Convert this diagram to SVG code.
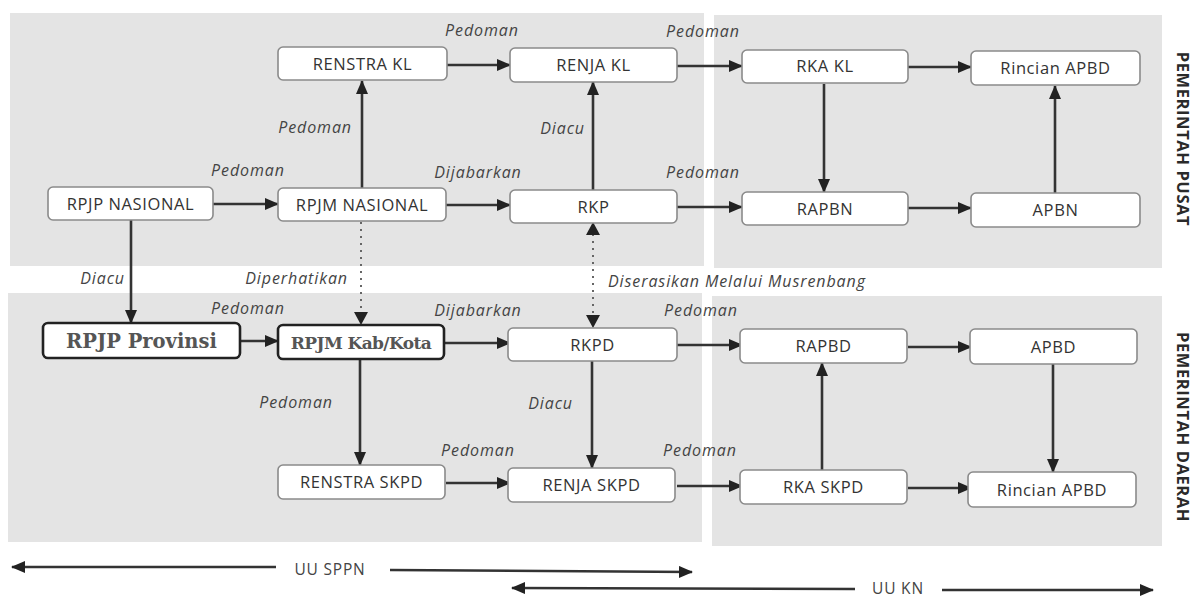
<svg xmlns="http://www.w3.org/2000/svg" width="1196" height="599" viewBox="0 0 1196 599">
<style>
.bg{fill:#e4e4e4}
.box{fill:#fff;stroke:#8a8a8a;stroke-width:1.6}
.bbox{fill:#fff;stroke:#222;stroke-width:2.6}
.t{font-family:"Open Sans","Noto Sans",sans-serif;font-size:16.5px;fill:#333;text-anchor:middle;letter-spacing:0.6px}
.st{font-family:"DejaVu Serif","Liberation Serif",serif;font-weight:bold;font-size:17px;fill:#555;text-anchor:middle}
.lb{font-family:"Open Sans","Noto Sans",sans-serif;font-style:italic;font-size:16px;fill:#444;letter-spacing:0.9px}
.side{font-family:"Open Sans","Noto Sans",sans-serif;font-weight:bold;font-size:16.5px;fill:#2a2a2a;text-anchor:middle;letter-spacing:0.6px}
.ln{stroke:#333;stroke-width:2.6;fill:none;marker-end:url(#ah)}
.dt{stroke:#666;stroke-width:2;fill:none;stroke-dasharray:2 5}
.law{font-family:"Open Sans","Noto Sans",sans-serif;font-size:15.5px;fill:#444;letter-spacing:0.8px;text-anchor:middle}
</style>
<defs>
<marker id="ah" markerUnits="userSpaceOnUse" markerWidth="14" markerHeight="12" refX="13" refY="6" orient="auto-start-reverse">
<path d="M0,0 L14,6 L0,12 z" fill="#222"/>
</marker>
</defs>
<rect width="1196" height="599" fill="#fff"/>
<g id="background">
<rect class="bg" x="10" y="13" width="694" height="253"/>
<rect class="bg" x="714" y="15" width="448" height="253"/>
<rect class="bg" x="8" y="293" width="694" height="249"/>
<rect class="bg" x="712" y="296" width="450" height="250"/>
</g>
<g id="connectors">
<line class="ln" x1="447" y1="65" x2="510" y2="65"/>
<line class="ln" x1="677" y1="66" x2="742" y2="66"/>
<line class="ln" x1="908" y1="67" x2="971" y2="67"/>
<line class="ln" x1="213" y1="204" x2="278" y2="204"/>
<line class="ln" x1="446" y1="205" x2="510" y2="205"/>
<line class="ln" x1="677" y1="207" x2="742" y2="207"/>
<line class="ln" x1="908" y1="208" x2="971" y2="208"/>
<line class="ln" x1="240" y1="341" x2="278" y2="341"/>
<line class="ln" x1="444" y1="343" x2="510" y2="343"/>
<line class="ln" x1="677" y1="345" x2="742" y2="345"/>
<line class="ln" x1="908" y1="347" x2="971" y2="347"/>
<line class="ln" x1="446" y1="483" x2="510" y2="483"/>
<line class="ln" x1="677" y1="486" x2="742" y2="486"/>
<line class="ln" x1="908" y1="488" x2="971" y2="488"/>
<line class="ln" x1="362" y1="188" x2="362" y2="81"/>
<line class="ln" x1="593" y1="190" x2="593" y2="82"/>
<line class="ln" x1="824" y1="84" x2="824" y2="192"/>
<line class="ln" x1="1055" y1="193" x2="1055" y2="86"/>
<line class="ln" x1="131" y1="220" x2="131" y2="323"/>
<line class="dt" x1="361" y1="222" x2="361" y2="314"/>
<path d="M354,312 L368,312 L361,325 z" fill="#222"/>
<line class="dt" x1="593" y1="234" x2="593" y2="316"/>
<path d="M586,235 L600,235 L593,222 z" fill="#222"/>
<path d="M586,315 L600,315 L593,328 z" fill="#222"/>
<line class="ln" x1="360" y1="359" x2="360" y2="465"/>
<line class="ln" x1="592" y1="361" x2="592" y2="468"/>
<line class="ln" x1="822" y1="470" x2="822" y2="363"/>
<line class="ln" x1="1053" y1="364" x2="1053" y2="472"/>
<line class="ln" x1="276" y1="567" x2="12" y2="567"/>
<line class="ln" x1="390" y1="570" x2="692" y2="572"/>
<line class="ln" x1="855" y1="589" x2="512" y2="588"/>
<line class="ln" x1="942" y1="590" x2="1153" y2="590"/>
</g>
<g id="labels">
<text class="lb" x="482" y="36" text-anchor="middle">Pedoman</text>
<text class="lb" x="703" y="37" text-anchor="middle">Pedoman</text>
<text class="lb" x="352" y="133" text-anchor="end">Pedoman</text>
<text class="lb" x="248" y="176" text-anchor="middle">Pedoman</text>
<text class="lb" x="585" y="134" text-anchor="end">Diacu</text>
<text class="lb" x="478" y="178" text-anchor="middle">Dijabarkan</text>
<text class="lb" x="703" y="178" text-anchor="middle">Pedoman</text>
<text class="lb" x="125" y="284" text-anchor="end">Diacu</text>
<text class="lb" x="348" y="284" text-anchor="end">Diperhatikan</text>
<text class="lb" x="608" y="287">Diserasikan Melalui Musrenbang</text>
<text class="lb" x="248" y="314" text-anchor="middle">Pedoman</text>
<text class="lb" x="478" y="316" text-anchor="middle">Dijabarkan</text>
<text class="lb" x="701" y="316" text-anchor="middle">Pedoman</text>
<text class="lb" x="333" y="408" text-anchor="end">Pedoman</text>
<text class="lb" x="573" y="409" text-anchor="end">Diacu</text>
<text class="lb" x="478" y="456" text-anchor="middle">Pedoman</text>
<text class="lb" x="700" y="456" text-anchor="middle">Pedoman</text>
<text class="side" transform="translate(1183,139) rotate(90)" y="6">PEMERINTAH PUSAT</text>
<text class="side" transform="translate(1183,427) rotate(90)" y="6">PEMERINTAH DAERAH</text>
<text class="law" x="330" y="575">UU SPPN</text>
<text class="law" x="898" y="594">UU KN</text>
</g>
<g id="n-renstra-kl"><rect class="box" x="278" y="47" width="169" height="33" rx="5"/><text class="t" x="362.5" y="69.5">RENSTRA KL</text></g>
<g id="n-renja-kl"><rect class="box" x="510" y="48" width="167" height="34" rx="5"/><text class="t" x="593.5" y="71">RENJA KL</text></g>
<g id="n-rka-kl"><rect class="box" x="742" y="50" width="166" height="33" rx="5"/><text class="t" x="825" y="72">RKA KL</text></g>
<g id="n-rincian-apbd-1"><rect class="box" x="971" y="51" width="169" height="34" rx="5"/><text class="t" x="1055.5" y="74">Rincian APBD</text></g>
<g id="n-rpjp-nasional"><rect class="box" x="48" y="187" width="165" height="33" rx="5"/><text class="t" x="130.5" y="209.5">RPJP NASIONAL</text></g>
<g id="n-rpjm-nasional"><rect class="box" x="278" y="188" width="168" height="33" rx="5"/><text class="t" x="362" y="210.5">RPJM NASIONAL</text></g>
<g id="n-rkp"><rect class="box" x="510" y="190" width="167" height="33" rx="5"/><text class="t" x="593.5" y="212.5">RKP</text></g>
<g id="n-rapbn"><rect class="box" x="742" y="192" width="166" height="33" rx="5"/><text class="t" x="825" y="214.5">RAPBN</text></g>
<g id="n-apbn"><rect class="box" x="971" y="193" width="169" height="34" rx="5"/><text class="t" x="1055.5" y="216">APBN</text></g>
<g id="n-rpjp-provinsi"><rect class="bbox" x="43" y="323" width="197" height="35" rx="5"/><text class="st" x="141.5" y="347.5" style="font-size:19.5px">RPJP Provinsi</text></g>
<g id="n-rpjm-kab-kota"><rect class="bbox" x="278" y="325" width="166" height="34" rx="5"/><text class="st" x="361" y="348.5" letter-spacing="-0.6">RPJM Kab/Kota</text></g>
<g id="n-rkpd"><rect class="box" x="508" y="328" width="169" height="33" rx="5"/><text class="t" x="592.5" y="350.5">RKPD</text></g>
<g id="n-rapbd"><rect class="box" x="740" y="329" width="167" height="34" rx="5"/><text class="t" x="823.5" y="352">RAPBD</text></g>
<g id="n-apbd"><rect class="box" x="970" y="329" width="167" height="35" rx="5"/><text class="t" x="1053.5" y="352.5">APBD</text></g>
<g id="n-renstra-skpd"><rect class="box" x="278" y="465" width="167" height="34" rx="5"/><text class="t" x="361.5" y="488">RENSTRA SKPD</text></g>
<g id="n-renja-skpd"><rect class="box" x="508" y="468" width="167" height="34" rx="5"/><text class="t" x="591.5" y="491">RENJA SKPD</text></g>
<g id="n-rka-skpd"><rect class="box" x="740" y="470" width="167" height="34" rx="5"/><text class="t" x="823.5" y="493">RKA SKPD</text></g>
<g id="n-rincian-apbd-2"><rect class="box" x="968" y="472" width="168" height="35" rx="5"/><text class="t" x="1052" y="495.5">Rincian APBD</text></g>
</svg>
